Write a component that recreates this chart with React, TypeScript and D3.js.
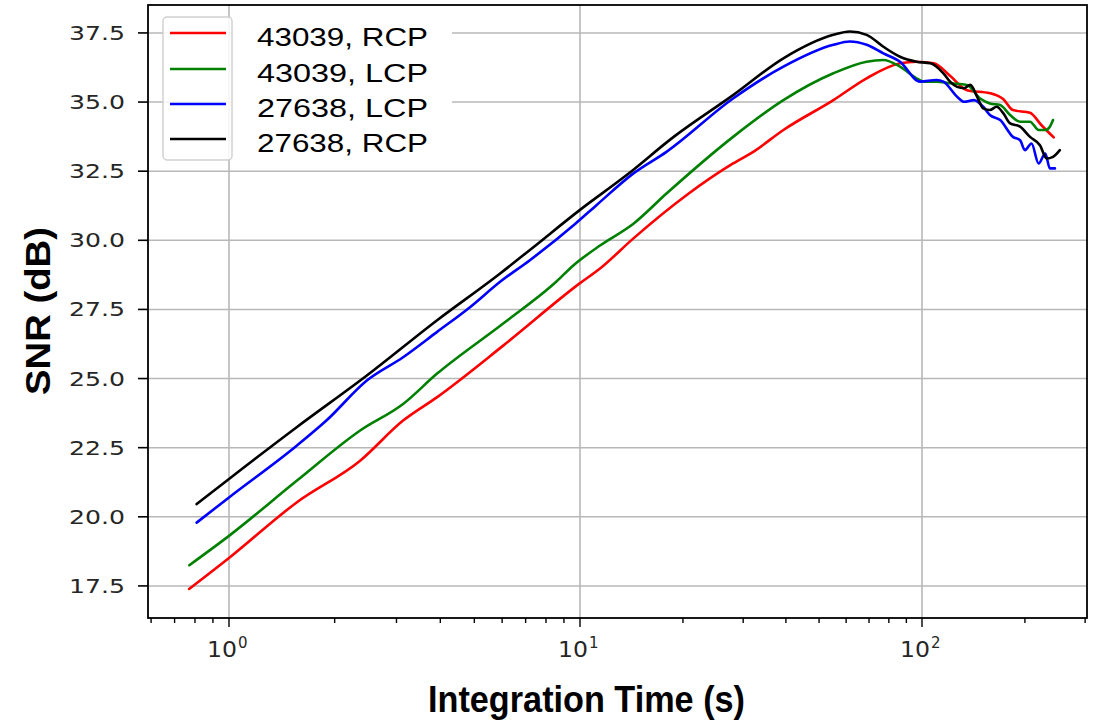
import React from "react";
import * as d3 from "d3";

const seriesNames = ["43039, RCP", "43039, LCP", "27638, LCP", "27638, RCP"];
const seriesColors = ["#ff0000", "#008000", "#0000ff", "#000000"];

const red43039RCP: [number, number][] = [
  [0.77, 17.39], [1, 18.51], [1.559, 20.52], [2.364, 22.03], [3.133, 23.48], [3.909, 24.32],
  [6.054, 26.2], [10.0, 28.45], [11.47, 28.99], [14.33, 30.07], [20.47, 31.63], [28.03, 32.78],
  [32.11, 33.2], [39.33, 33.99], [55.07, 35.07], [68.87, 35.86], [86.25, 36.4], [96.4, 36.46],
  [108.3, 36.4], [120.8, 35.95], [135.4, 35.43], [158, 35.32], [173, 35.1], [184.5, 34.71],
  [207, 34.61], [223.3, 34.17], [242.8, 33.72],
];

const green43039LCP: [number, number][] = [
  [0.771, 18.25], [1, 19.31], [1.559, 21.3], [2.364, 23.12], [3.133, 24.08], [3.909, 25.17],
  [6.054, 27.0], [8.585, 28.52], [9.57, 29.09], [11.47, 29.82], [14.33, 30.6], [17.9, 31.69],
  [28.03, 33.74], [39.33, 35.07], [55.07, 36.04], [68.87, 36.46], [77.1, 36.52], [86.25, 36.28],
  [96.4, 35.86], [101, 35.74], [110.4, 35.74], [120.8, 35.68], [135.4, 35.62], [148, 35.13],
  [158, 34.95], [169.3, 34.89], [181, 34.53], [193.6, 34.29], [207, 34.29], [219.3, 33.99],
  [229.4, 33.99], [236.6, 34.11], [241.7, 34.35],
];

const blue27638LCP: [number, number][] = [
  [0.809, 19.79], [1, 20.7], [1.559, 22.57], [1.894, 23.48], [2.47, 24.93], [3.133, 25.77],
  [3.909, 26.68], [4.859, 27.58], [5.909, 28.49], [7.198, 29.28], [9.7, 30.6], [11.17, 31.27],
  [14.33, 32.42], [17.9, 33.2], [28.03, 35.13], [39.33, 36.28], [55.07, 37.07], [61.5, 37.19],
  [68.87, 37.07], [77.1, 36.76], [86.25, 36.46], [98.7, 35.74], [110.4, 35.8], [115.5, 35.74],
  [126.7, 35.19], [132.8, 35.01], [141.9, 35.07], [151, 34.83], [158, 34.53], [169.3, 34.35],
  [184.5, 33.74], [193.6, 33.62], [200, 33.26], [209.1, 33.5], [219.3, 32.78], [229.4, 33.14],
  [236.6, 32.6], [244.8, 32.6],
];

const black27638RCP: [number, number][] = [
  [0.809, 20.46], [1, 21.37], [1.559, 23.24], [2.47, 25.11], [3.909, 27.1], [5.909, 28.79],
  [7.198, 29.65], [10.0, 31.1], [13.69, 32.36], [18.79, 33.74], [28.03, 35.25], [39.33, 36.58],
  [55.07, 37.43], [61.5, 37.55], [68.87, 37.43], [77.1, 37.0], [86.25, 36.64], [96.4, 36.46],
  [105.8, 36.4], [115.5, 36.04], [120.8, 35.74], [126.7, 35.55], [132.8, 35.5], [138.4, 35.62],
  [145, 35.19], [151, 34.77], [158, 34.71], [165.3, 34.83], [173, 34.59], [181, 34.23],
  [193.6, 34.11], [207, 33.74], [221.3, 33.44], [231.5, 32.96], [241.7, 33.02], [253, 33.26],
];

const allSeries = [red43039RCP, green43039LCP, blue27638LCP, black27638RCP];

const yTicks = [17.5, 20.0, 22.5, 25.0, 27.5, 30.0, 32.5, 35.0, 37.5];
const xMajorTicks = [1, 10, 100];
const xMajorExp = ["0", "1", "2"];
const xMinorTicks = [0.6, 0.7, 0.8, 0.9, 2, 3, 4, 5, 6, 7, 8, 9, 20, 30, 40, 50, 60, 70, 80, 90, 200, 300];

const W = 1119;
const H = 721;
const plot = { left: 148, right: 1087, top: 5, bottom: 618 };

export default function App() {
  const x = d3
    .scaleLog()
    .domain([0.588, 1, 10, 100, 303.8])
    .range([plot.left, 229, 580, 922, plot.right]);
  const y = d3.scaleLinear().domain([16.34, 38.51]).range([plot.bottom, plot.top]);
  const line = d3
    .line<[number, number]>()
    .x((d) => x(d[0]))
    .y((d) => y(d[1]))
    .curve(d3.curveMonotoneX);

  const legendRows = [33, 69, 104, 139];

  return (
    <svg
      width={W}
      height={H}
      style={{ position: "absolute", left: 0, top: 0, background: "#fff" }}
    >
      <rect x={0} y={0} width={W} height={H} fill="#fff" />
      <g stroke="#b8b8b8" strokeWidth={1.6}>
        {yTicks.map((t) => (
          <line key={"gy" + t} x1={plot.left} x2={plot.right} y1={y(t)} y2={y(t)} />
        ))}
        {xMajorTicks.map((t) => (
          <line key={"gx" + t} x1={x(t)} x2={x(t)} y1={plot.top} y2={plot.bottom} />
        ))}
      </g>
      <g fill="none" strokeWidth={2.6} strokeLinejoin="round" strokeLinecap="round">
        {allSeries.map((s, i) => (
          <path key={i} d={line(s) || ""} stroke={seriesColors[i]} />
        ))}
      </g>
      <rect
        x={plot.left}
        y={plot.top}
        width={plot.right - plot.left}
        height={plot.bottom - plot.top}
        fill="none"
        stroke="#000"
        strokeWidth={1.8}
      />
      <g>
        {yTicks.map((t) => (
          <g key={"yt" + t}>
            <line x1={plot.left - 10} x2={plot.left} y1={y(t)} y2={y(t)} stroke="#000" strokeWidth={1.6} />
            <text
              x={125}
              y={y(t) + 7}
              textAnchor="end"
              fontFamily="DejaVu Sans"
              fontSize={20}
              fill="#262626"
              textLength={56}
              lengthAdjust="spacingAndGlyphs"
            >
              {t.toFixed(1)}
            </text>
          </g>
        ))}
      </g>
      <g stroke="#000" strokeWidth={1.4}>
        {xMinorTicks.map((t) => (
          <line key={"xm" + t} x1={x(t)} x2={x(t)} y1={plot.bottom} y2={plot.bottom + 5} />
        ))}
        {xMajorTicks.map((t) => (
          <line key={"xM" + t} x1={x(t)} x2={x(t)} y1={plot.bottom} y2={plot.bottom + 9} />
        ))}
      </g>
      {xMajorTicks.map((t, i) => (
        <text
          key={"xl" + t}
          x={x(t) - 22}
          y={657}
          fontFamily="DejaVu Sans"
          fontSize={21}
          fill="#262626"
        >
          <tspan textLength={30} lengthAdjust="spacingAndGlyphs">10</tspan>
          <tspan dx={1} dy={-9} fontSize={15}>{xMajorExp[i]}</tspan>
        </text>
      ))}
      <rect x={232} y={17} width={220} height={143} fill="#fff" />
      <rect x={163} y={17} width={69} height={143} rx={4} fill="#fff" fillOpacity={0.85} stroke="#cfcfcf" strokeWidth={1.4} />
      {seriesNames.map((n, i) => (
        <g key={n}>
          <line x1={170} x2={226} y1={legendRows[i]} y2={legendRows[i]} stroke={seriesColors[i]} strokeWidth={2.6} />
          <text
            x={257}
            y={legendRows[i] + 13}
            fontFamily="Liberation Sans, Arial, sans-serif"
            fontSize={26}
            fill="#000"
            textLength={171}
            lengthAdjust="spacingAndGlyphs"
          >
            {n}
          </text>
        </g>
      ))}
      <text
        x={428}
        y={712}
        fontFamily="Liberation Sans, Arial, sans-serif"
        fontWeight="bold"
        fontSize={37}
        textLength={317}
        lengthAdjust="spacingAndGlyphs"
      >
        Integration Time (s)
      </text>
      <text
        transform="translate(50,395) rotate(-90)"
        x={0}
        y={0}
        fontFamily="Liberation Sans, Arial, sans-serif"
        fontWeight="bold"
        fontSize={35}
        textLength={168}
        lengthAdjust="spacingAndGlyphs"
      >
        SNR (dB)
      </text>
    </svg>
  );
}
